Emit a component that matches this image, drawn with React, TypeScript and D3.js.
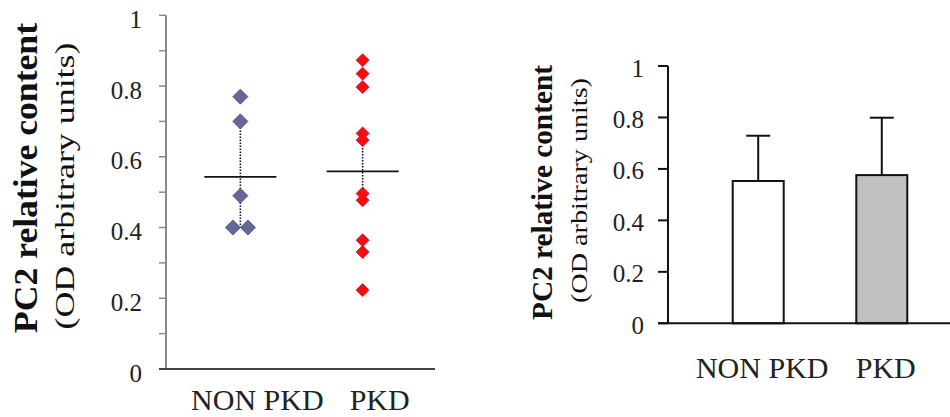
import React from "react";
import * as d3 from "d3";

const categories = ["NON PKD", "PKD"];
const nonPkdValues = [0.77, 0.7, 0.49, 0.4, 0.4];
const pkdValues = [0.873, 0.835, 0.797, 0.666, 0.647, 0.496, 0.477, 0.364, 0.331, 0.223];
const scatterMeans = [0.543, 0.559];
const sdLow = [0.4, 0.47];
const sdHigh = [0.7, 0.65];
const barMeans = [0.553, 0.576];
const barErrors = [0.176, 0.223];
const majorTicks = [0, 0.2, 0.4, 0.6, 0.8, 1];
const minorTicks = [0.1, 0.3, 0.5, 0.7, 0.9];
const tickLabels = ["0", "0.2", "0.4", "0.6", "0.8", "1"];
const yTitle = "PC2 relative content";
const ySubTitle = "(OD arbitrary units)";

const SERIF = "Liberation Serif, DejaVu Serif, serif";

function diamond(cx: number, cy: number, hw: number, hh: number) {
  return `M${cx},${cy - hh}L${cx + hw},${cy}L${cx},${cy + hh}L${cx - hw},${cy}Z`;
}

export default function App() {
  const yL = d3.scaleLinear().domain([0, 1]).range([369, 15.3]);
  const xL = d3.scalePoint<string>().domain(categories).range([166, 435]).padding(0.6);
  const yR = d3.scaleLinear().domain([0, 1]).range([323.3, 66]);
  const xR = d3.scalePoint<string>().domain(categories).range([668, 972]).padding(0.73);
  const barW = 51;

  const groups = [nonPkdValues, pkdValues];
  const colors = ["#666699", "#ff0a0a"];
  const strokes = ["#5a5a8c", "#b03050"];
  const sizes = [
    [7.5, 7.5],
    [6.5, 6.5],
  ];

  return (
    <svg width={950} height={417} style={{ position: "absolute", left: 0, top: 0, background: "#fff" }}>
      <rect x={0} y={0} width={950} height={417} fill="#fff" />
      {/* ===== LEFT PANEL ===== */}
      <text
        transform={`translate(37,178) rotate(-90)`}
        textAnchor="middle"
        style={{ fontFamily: SERIF }}
        fontWeight="bold"
        fontSize={33}
        textLength={310}
        lengthAdjust="spacingAndGlyphs"
        fill="#111"
      >
        {yTitle}
      </text>
      <text
        transform={`translate(74,186) rotate(-90)`}
        textAnchor="middle"
        style={{ fontFamily: SERIF }}
        fontSize={28}
        textLength={287}
        lengthAdjust="spacingAndGlyphs"
        fill="#111"
      >
        {ySubTitle}
      </text>
      <line x1={166} x2={166} y1={yL(1)} y2={yL(0)} stroke="#8a8a8a" strokeWidth={2} />
      {majorTicks.concat(minorTicks).map((t) => (
        <line key={"lt" + t} x1={159} x2={166} y1={yL(t)} y2={yL(t)} stroke="#8a8a8a" strokeWidth={1.5} />
      ))}
      {majorTicks.map((t, i) => (
        <text
          key={"ll" + t}
          x={142}
          y={yL(t) + 4}
          textAnchor="end"
          dominantBaseline="central"
          style={{ fontFamily: SERIF }}
          fontSize={25}
          fill="#222"
        >
          {tickLabels[i]}
        </text>
      ))}
      <line x1={159} x2={435} y1={yL(0)} y2={yL(0)} stroke="#444" strokeWidth={2} />
      {categories.map((c) => (
        <text
          key={"lx" + c}
          x={(xL(c) as number) + 18}
          y={410}
          textAnchor="middle"
          style={{ fontFamily: SERIF }}
          fontSize={30}
          fill="#222"
        >
          {c}
        </text>
      ))}
      {categories.map((c, i) => (
        <line
          key={"sd" + c}
          x1={(xL(c) as number) + 1}
          x2={(xL(c) as number) + 1}
          y1={yL(sdHigh[i])}
          y2={yL(sdLow[i])}
          stroke="#111"
          strokeWidth={1.6}
          strokeDasharray="1.5,1.5"
        />
      ))}
      {groups.map((vals, gi) => {
        const cx = xL(categories[gi]) as number;
        const seen: Record<string, number> = {};
        const counts: Record<string, number> = {};
        vals.forEach((v) => (counts[v.toFixed(3)] = (counts[v.toFixed(3)] || 0) + 1));
        return vals.map((v, k) => {
          const key = v.toFixed(3);
          const n = counts[key];
          const idx = seen[key] || 0;
          seen[key] = idx + 1;
          const off = n > 1 ? (idx - (n - 1) / 2) * 15 : 0;
          return (
            <path
              key={"p" + gi + "-" + k}
              d={diamond(cx + off + 1, yL(v), sizes[gi][0], sizes[gi][1])}
              fill={colors[gi]}
              stroke={strokes[gi]}
              strokeWidth={1}
            />
          );
        });
      })}
      {categories.map((c, i) => (
        <line
          key={"m" + c}
          x1={(xL(c) as number) - 35}
          x2={(xL(c) as number) + 37}
          y1={yL(scatterMeans[i])}
          y2={yL(scatterMeans[i])}
          stroke="#111"
          strokeWidth={1.8}
        />
      ))}

      {/* ===== RIGHT PANEL ===== */}
      <text
        transform={`translate(552,192.5) rotate(-90)`}
        textAnchor="middle"
        style={{ fontFamily: SERIF }}
        fontWeight="bold"
        fontSize={29}
        textLength={255}
        lengthAdjust="spacingAndGlyphs"
        fill="#111"
      >
        {yTitle}
      </text>
      <text
        transform={`translate(587,190.5) rotate(-90)`}
        textAnchor="middle"
        style={{ fontFamily: SERIF }}
        fontSize={24}
        textLength={225}
        lengthAdjust="spacingAndGlyphs"
        fill="#111"
      >
        {ySubTitle}
      </text>
      {categories.map((c, i) => {
        const cx = xR(c) as number;
        return (
          <g key={"b" + c}>
            <line x1={cx} x2={cx} y1={yR(barMeans[i])} y2={yR(barMeans[i] + barErrors[i])} stroke="#111" strokeWidth={2} />
            <line x1={cx - 12} x2={cx + 12} y1={yR(barMeans[i] + barErrors[i])} y2={yR(barMeans[i] + barErrors[i])} stroke="#111" strokeWidth={2} />
            <rect
              x={cx - barW / 2}
              y={yR(barMeans[i])}
              width={barW}
              height={yR(0) - yR(barMeans[i])}
              fill={i === 0 ? "#ffffff" : "#c0c0c0"}
              stroke="#111"
              strokeWidth={2}
            />
          </g>
        );
      })}
      <line x1={668} x2={668} y1={yR(1)} y2={yR(0)} stroke="#111" strokeWidth={2} />
      {majorTicks.map((t, i) => (
        <g key={"rt" + t}>
          <line x1={658} x2={668} y1={yR(t)} y2={yR(t)} stroke="#111" strokeWidth={2} />
          <text
            x={644}
            y={yR(t) + 2}
            textAnchor="end"
            dominantBaseline="central"
            style={{ fontFamily: SERIF }}
            fontSize={25}
            fill="#222"
          >
            {tickLabels[i]}
          </text>
        </g>
      ))}
      <line x1={658} x2={950} y1={yR(0)} y2={yR(0)} stroke="#111" strokeWidth={2} />
      {categories.map((c) => (
        <text
          key={"rx" + c}
          x={(xR(c) as number) + 4}
          y={378}
          textAnchor="middle"
          style={{ fontFamily: SERIF }}
          fontSize={30}
          fill="#222"
        >
          {c}
        </text>
      ))}
    </svg>
  );
}
